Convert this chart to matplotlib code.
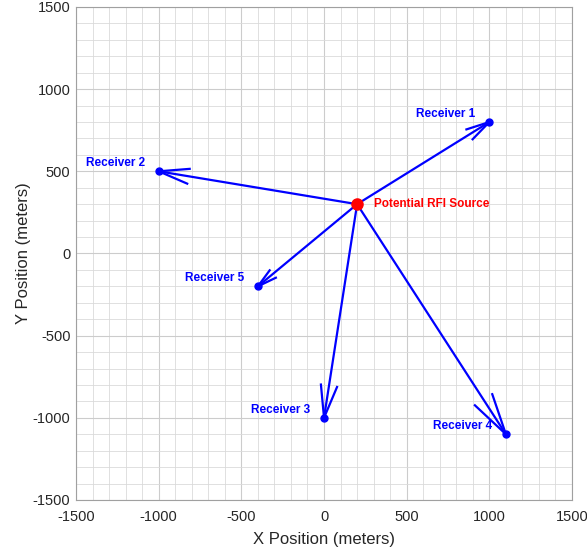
import numpy as np
import matplotlib
matplotlib.use('Agg')
import matplotlib.pyplot as plt
from matplotlib.ticker import MultipleLocator

plt.rcParams['font.family'] = ['Liberation Sans', 'DejaVu Sans']
plt.rcParams['axes.unicode_minus'] = False

# source and receiver positions (meters)
source_x, source_y = 200, 300
source_label = 'Potential RFI Source'
rx_x = [1000, -1000, 0, 1100, -400]
rx_y = [800, 500, -1000, -1100, -200]
rx_labels = ['Receiver 1', 'Receiver 2', 'Receiver 3', 'Receiver 4', 'Receiver 5']
ticks = [-1500, -1000, -500, 0, 500, 1000, 1500]

fig = plt.figure(figsize=(5.87, 5.54), dpi=100)
ax = fig.add_axes([0.1295, 0.0975, 0.845, 0.8899])

# quiver-like arrows from source to each receiver, open arrowhead
head_a = 0.15
head_b = 0.25
for x, y in zip(rx_x, rx_y):
    u = x - source_x
    v = y - source_y
    ax.plot([source_x, x], [source_y, y], color='blue', lw=1.6, zorder=3)
    b1x = x - head_a * (u + head_b * v)
    b1y = y - head_a * (v - head_b * u)
    b2x = x - head_a * (u - head_b * v)
    b2y = y - head_a * (v + head_b * u)
    ax.plot([b1x, x, b2x], [b1y, y, b2y], color='blue', lw=1.6, zorder=3)

ax.plot(rx_x, rx_y, 'o', color='blue', ms=5, zorder=4)
ax.plot(source_x, source_y, 'o', color='red', ms=8, zorder=5)

for x, y, lab in zip(rx_x, rx_y, rx_labels):
    ax.text(x - 85, y + 48, lab, color='blue', fontsize=8.5, fontweight='bold',
            ha='right', va='center', zorder=6)
ax.text(source_x + 100, source_y, source_label, color='red', fontsize=8.5,
        fontweight='bold', ha='left', va='center', zorder=6)

ax.set_xlim(-1500, 1500)
ax.set_ylim(-1500, 1500)
ax.set_xticks(ticks)
ax.set_yticks(ticks)
ax.xaxis.set_minor_locator(MultipleLocator(100))
ax.yaxis.set_minor_locator(MultipleLocator(100))
ax.grid(which='major', color='#cccccc', lw=0.8, zorder=0)
ax.grid(which='minor', color='#dadada', lw=0.6, zorder=0)
ax.set_axisbelow(True)
ax.tick_params(which='both', direction='in', length=0, labelsize=10.5, colors='#262626')
ax.tick_params(axis='y', which='major', pad=4)
ax.tick_params(axis='x', which='major', pad=7)
for s in ax.spines.values():
    s.set_color('#a0a0a0')
    s.set_linewidth(0.8)

ax.set_xlabel('X Position (meters)', fontsize=12, color='#262626', labelpad=6)
ax.set_ylabel('Y Position (meters)', fontsize=12, color='#262626', labelpad=1)

fig.savefig('out.png', dpi=100)
